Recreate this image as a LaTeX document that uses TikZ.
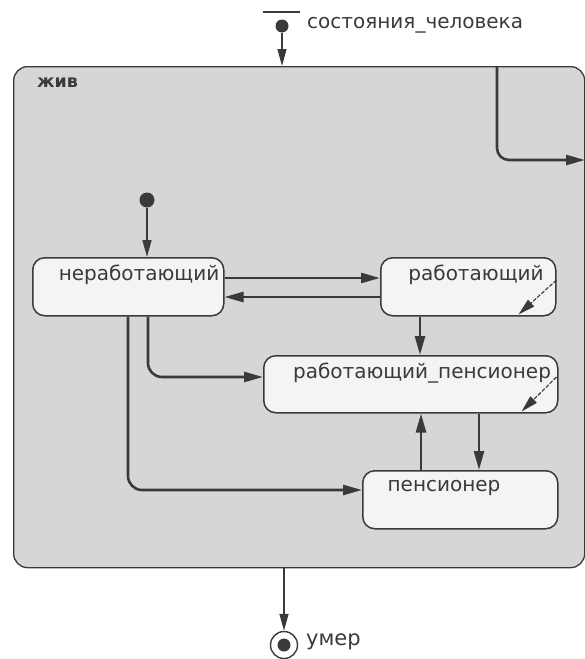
\documentclass[tikz,border=0pt]{standalone}
\usepackage{fontspec}
\setmainfont{DejaVu Sans}
\usetikzlibrary{arrows.meta}
\definecolor{ln}{HTML}{3A3A3A}
\definecolor{compfill}{HTML}{D6D6D6}
\definecolor{boxfill}{HTML}{F4F4F4}
\tikzset{
  arr/.style={draw=ln, line width=2.6pt, -{Triangle[length=19pt,width=10pt]}},
  thinarr/.style={draw=ln, line width=1.4pt, -{Triangle[length=17pt,width=9pt]}},
  selfarr/.style={draw=ln, line width=1.1pt, dash pattern=on 4pt off 1.5pt, -{Triangle[length=17pt,width=9pt]}},
  stbox/.style={draw=ln, fill=boxfill, line width=1.5pt, rounded corners=12pt, anchor=north west, inner sep=0pt},
  dotnode/.style={circle, fill=ln, inner sep=0pt},
  lbl/.style={font=\fontsize{20}{24}\selectfont, text=ln, inner sep=0pt},
}
\begin{document}
\begin{tikzpicture}[x=1pt,y=-1pt]
\useasboundingbox (0,0) rectangle (585,659);
% helper coordinates
\coordinate (x420) at (420,0);
\coordinate (x421) at (421,0);
\coordinate (x479) at (479,0);
\coordinate (x148) at (148,0);
\coordinate (x128) at (128,0);
\coordinate (y377) at (0,377);
\coordinate (y490) at (0,490);
% composite state
\node[draw=ln, fill=compfill, line width=1.3pt, rounded corners=14pt, anchor=north west, inner sep=0pt,
      minimum width=571pt, minimum height=501pt] (alive) at (13,66) {};
\node[font=\bfseries\fontsize{17.5}{20}\selectfont, text=ln, anchor=west, inner sep=0pt] (alivet) at (37,83) {жив};
% top initial
\draw[draw=ln, line width=1.6pt] (263,12) -- (300,12);
\node[dotnode, minimum size=13pt] (top0) at (282,26) {};
\node[lbl, anchor=west] (topt) at (307,25) {состояния\_человека};
\draw[thinarr] (top0) -- (top0 |- alive.north);
% exit transition
\coordinate (exs) at (497,66);
\coordinate (ex) at (585,160);
\draw[arr, rounded corners=12pt] (exs) |- (ex);
% states
\node[stbox, minimum width=191pt, minimum height=58pt] (nr) at (32,257) {};
\node[stbox, minimum width=175pt, minimum height=58pt] (r) at (380,257) {};
\node[stbox, minimum width=294pt, minimum height=57pt] (rp) at (263,355) {};
\node[stbox, minimum width=195pt, minimum height=58pt] (p) at (362,470) {};
\node[lbl] (nrt) at (139,275) {неработающий};
\node[lbl] (rt) at (476,275) {работающий};
\node[lbl] (rpt) at (422,373) {работающий\_пенсионер};
\node[lbl] (pt) at (444,488) {пенсионер};
% inner initial
\node[dotnode, minimum size=15pt] (init) at (147,200) {};
\draw[thinarr] (init) -- (init |- nr.north);
% transitions
\draw[arr] ([yshift=-21pt]nr.north east) -- ([yshift=-21pt]r.north west);
\draw[arr] ([yshift=-40pt]r.north west) -- ([yshift=-40pt]nr.north east);
\draw[arr] (r.south -| x420) -- (rp.north -| x420);
\draw[arr] (rp.south -| x479) -- (p.north -| x479);
\draw[arr] (p.north -| x421) -- (rp.south -| x421);
\draw[arr, rounded corners=14pt] (nr.south -| x148) |- (rp.west |- y377);
\draw[arr, rounded corners=14pt] (nr.south -| x128) |- (p.west |- y490);
\draw[selfarr] ([yshift=-23pt]r.north east) -- ([xshift=-38pt,yshift=2pt]r.south east);
\draw[selfarr] ([xshift=-2pt,yshift=-22pt]rp.north east) -- ([xshift=-37pt,yshift=2pt]rp.south east);
% final state
\node[draw=ln, circle, line width=1.4pt, minimum size=27pt, inner sep=0pt] (fin) at (284,645) {};
\node[dotnode, minimum size=13pt] (finc) at (fin.center) {};
\node[lbl, font=\fontsize{21}{24}\selectfont, anchor=west] (fint) at (306,642) {умер};
\draw[thinarr] (alive.south -| fin) -- (fin.north);
\end{tikzpicture}
\end{document}
